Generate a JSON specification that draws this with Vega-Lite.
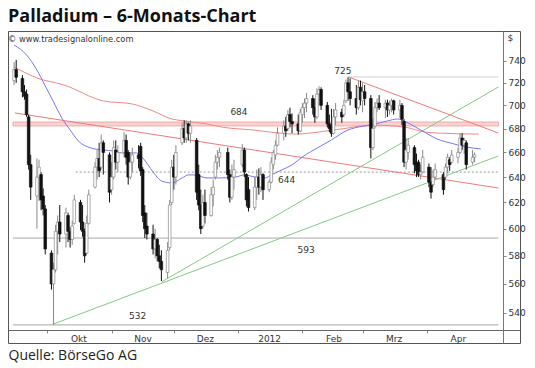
{
  "$schema": "https://vega.github.io/schema/vega-lite/v6.json",
  "width": 512,
  "height": 312,
  "autosize": {"type": "none"},
  "padding": {"left": 8, "top": 31, "right": 15, "bottom": 25},
  "background": "white",
  "config": {"view": {"stroke": "#555", "strokeWidth": 1}, "font": "DejaVu Sans"},
  "title": {
    "text": "Palladium – 6-Monats-Chart",
    "subtitle": "© www.tradesignalonline.com",
    "anchor": "start",
    "font": "Open Sans",
    "fontSize": 18,
    "fontWeight": "bold",
    "color": "#111",
    "subtitleFont": "DejaVu Sans",
    "subtitleFontSize": 8.3,
    "subtitleColor": "#333",
    "subtitlePadding": 9,
    "offset": -12
  },
  "datasets": {
    "ohlc": [
      {"d":"2011-09-15","o":722,"h":739,"l":718,"c":732},
      {"d":"2011-09-16","o":732,"h":741,"l":720,"c":725},
      {"d":"2011-09-19","o":724,"h":727,"l":707,"c":712},
      {"d":"2011-09-20","o":712,"h":718,"l":705,"c":708},
      {"d":"2011-09-21","o":710,"h":714,"l":690,"c":692},
      {"d":"2011-09-22","o":690,"h":692,"l":646,"c":650},
      {"d":"2011-09-23","o":650,"h":658,"l":622,"c":632},
      {"d":"2011-09-26","o":625,"h":655,"l":600,"c":640},
      {"d":"2011-09-27","o":640,"h":654,"l":621,"c":648},
      {"d":"2011-09-28","o":642,"h":644,"l":614,"c":622},
      {"d":"2011-09-29","o":625,"h":631,"l":610,"c":615},
      {"d":"2011-09-30","o":615,"h":618,"l":581,"c":585},
      {"d":"2011-10-03","o":582,"h":584,"l":556,"c":560},
      {"d":"2011-10-04","o":560,"h":575,"l":532,"c":570},
      {"d":"2011-10-05","o":570,"h":603,"l":568,"c":598},
      {"d":"2011-10-06","o":598,"h":610,"l":581,"c":605},
      {"d":"2011-10-07","o":605,"h":618,"l":590,"c":596},
      {"d":"2011-10-10","o":596,"h":616,"l":586,"c":612},
      {"d":"2011-10-11","o":610,"h":612,"l":590,"c":598},
      {"d":"2011-10-12","o":598,"h":601,"l":586,"c":592},
      {"d":"2011-10-13","o":592,"h":606,"l":588,"c":602},
      {"d":"2011-10-14","o":604,"h":626,"l":603,"c":622},
      {"d":"2011-10-17","o":620,"h":622,"l":599,"c":605},
      {"d":"2011-10-18","o":605,"h":618,"l":594,"c":598},
      {"d":"2011-10-19","o":598,"h":600,"l":575,"c":580},
      {"d":"2011-10-20","o":582,"h":610,"l":581,"c":604},
      {"d":"2011-10-21","o":604,"h":630,"l":603,"c":626},
      {"d":"2011-10-24","o":632,"h":652,"l":631,"c":648},
      {"d":"2011-10-25","o":648,"h":662,"l":638,"c":655},
      {"d":"2011-10-26","o":655,"h":668,"l":640,"c":645},
      {"d":"2011-10-27","o":648,"h":675,"l":646,"c":668},
      {"d":"2011-10-28","o":668,"h":670,"l":642,"c":660},
      {"d":"2011-10-31","o":658,"h":660,"l":620,"c":628},
      {"d":"2011-11-01","o":630,"h":652,"l":626,"c":640},
      {"d":"2011-11-02","o":640,"h":670,"l":638,"c":664},
      {"d":"2011-11-03","o":662,"h":670,"l":646,"c":652},
      {"d":"2011-11-04","o":652,"h":666,"l":644,"c":660},
      {"d":"2011-11-07","o":660,"h":677,"l":656,"c":670},
      {"d":"2011-11-08","o":670,"h":675,"l":650,"c":656},
      {"d":"2011-11-09","o":660,"h":662,"l":634,"c":640},
      {"d":"2011-11-10","o":640,"h":660,"l":638,"c":652},
      {"d":"2011-11-11","o":652,"h":664,"l":644,"c":658},
      {"d":"2011-11-14","o":658,"h":666,"l":647,"c":655},
      {"d":"2011-11-15","o":665,"h":668,"l":641,"c":645},
      {"d":"2011-11-16","o":646,"h":648,"l":605,"c":610},
      {"d":"2011-11-17","o":612,"h":618,"l":593,"c":600},
      {"d":"2011-11-18","o":602,"h":612,"l":592,"c":596},
      {"d":"2011-11-21","o":596,"h":603,"l":581,"c":585},
      {"d":"2011-11-22","o":585,"h":600,"l":578,"c":592},
      {"d":"2011-11-23","o":592,"h":593,"l":576,"c":580},
      {"d":"2011-11-24","o":580,"h":588,"l":571,"c":576},
      {"d":"2011-11-25","o":576,"h":584,"l":562,"c":570},
      {"d":"2011-11-28","o":568,"h":590,"l":564,"c":584},
      {"d":"2011-11-29","o":586,"h":622,"l":584,"c":618},
      {"d":"2011-11-30","o":620,"h":654,"l":618,"c":648},
      {"d":"2011-12-01","o":648,"h":658,"l":630,"c":640},
      {"d":"2011-12-02","o":640,"h":666,"l":634,"c":660},
      {"d":"2011-12-05","o":668,"h":685,"l":666,"c":680},
      {"d":"2011-12-06","o":680,"h":687,"l":668,"c":672},
      {"d":"2011-12-07","o":672,"h":687,"l":668,"c":684},
      {"d":"2011-12-08","o":684,"h":685,"l":670,"c":676},
      {"d":"2011-12-09","o":676,"h":687,"l":668,"c":682},
      {"d":"2011-12-12","o":670,"h":672,"l":622,"c":628},
      {"d":"2011-12-13","o":642,"h":650,"l":614,"c":618},
      {"d":"2011-12-14","o":618,"h":630,"l":596,"c":600},
      {"d":"2011-12-15","o":602,"h":626,"l":600,"c":620},
      {"d":"2011-12-16","o":620,"h":630,"l":604,"c":610},
      {"d":"2011-12-19","o":610,"h":632,"l":609,"c":626},
      {"d":"2011-12-20","o":626,"h":638,"l":617,"c":632},
      {"d":"2011-12-21","o":640,"h":658,"l":638,"c":652},
      {"d":"2011-12-22","o":652,"h":662,"l":646,"c":656},
      {"d":"2011-12-23","o":656,"h":664,"l":648,"c":660},
      {"d":"2011-12-27","o":660,"h":664,"l":638,"c":642},
      {"d":"2011-12-28","o":642,"h":646,"l":620,"c":624},
      {"d":"2011-12-29","o":624,"h":650,"l":622,"c":640},
      {"d":"2011-12-30","o":640,"h":654,"l":630,"c":646},
      {"d":"2012-01-03","o":650,"h":667,"l":648,"c":662},
      {"d":"2012-01-04","o":662,"h":664,"l":640,"c":644},
      {"d":"2012-01-05","o":642,"h":643,"l":617,"c":622},
      {"d":"2012-01-06","o":630,"h":640,"l":613,"c":616},
      {"d":"2012-01-09","o":616,"h":640,"l":614,"c":632},
      {"d":"2012-01-10","o":632,"h":646,"l":622,"c":640},
      {"d":"2012-01-11","o":640,"h":647,"l":626,"c":632},
      {"d":"2012-01-12","o":632,"h":648,"l":628,"c":642},
      {"d":"2012-01-13","o":642,"h":643,"l":622,"c":630},
      {"d":"2012-01-16","o":630,"h":638,"l":628,"c":636},
      {"d":"2012-01-17","o":636,"h":656,"l":635,"c":652},
      {"d":"2012-01-18","o":650,"h":662,"l":646,"c":660},
      {"d":"2012-01-19","o":658,"h":670,"l":654,"c":666},
      {"d":"2012-01-20","o":666,"h":681,"l":665,"c":676},
      {"d":"2012-01-23","o":676,"h":687,"l":670,"c":682},
      {"d":"2012-01-24","o":682,"h":690,"l":673,"c":678},
      {"d":"2012-01-25","o":680,"h":696,"l":678,"c":692},
      {"d":"2012-01-26","o":692,"h":698,"l":681,"c":686},
      {"d":"2012-01-27","o":686,"h":693,"l":676,"c":684},
      {"d":"2012-01-30","o":684,"h":692,"l":675,"c":678},
      {"d":"2012-01-31","o":678,"h":697,"l":677,"c":694},
      {"d":"2012-02-01","o":692,"h":702,"l":685,"c":698},
      {"d":"2012-02-02","o":698,"h":706,"l":689,"c":702},
      {"d":"2012-02-03","o":702,"h":711,"l":694,"c":706},
      {"d":"2012-02-06","o":706,"h":709,"l":692,"c":698},
      {"d":"2012-02-07","o":698,"h":706,"l":685,"c":690},
      {"d":"2012-02-08","o":690,"h":715,"l":688,"c":710},
      {"d":"2012-02-09","o":710,"h":717,"l":700,"c":714},
      {"d":"2012-02-10","o":714,"h":716,"l":696,"c":700},
      {"d":"2012-02-13","o":700,"h":703,"l":681,"c":684},
      {"d":"2012-02-14","o":684,"h":692,"l":677,"c":680},
      {"d":"2012-02-15","o":682,"h":697,"l":673,"c":676},
      {"d":"2012-02-16","o":676,"h":697,"l":675,"c":690},
      {"d":"2012-02-17","o":690,"h":702,"l":683,"c":696},
      {"d":"2012-02-20","o":694,"h":697,"l":685,"c":690},
      {"d":"2012-02-21","o":692,"h":705,"l":690,"c":700},
      {"d":"2012-02-22","o":704,"h":723,"l":702,"c":720},
      {"d":"2012-02-23","o":720,"h":725,"l":704,"c":712},
      {"d":"2012-02-24","o":712,"h":724,"l":700,"c":706},
      {"d":"2012-02-27","o":706,"h":718,"l":692,"c":698},
      {"d":"2012-02-28","o":698,"h":722,"l":696,"c":716},
      {"d":"2012-02-29","o":716,"h":722,"l":700,"c":705},
      {"d":"2012-03-01","o":704,"h":720,"l":694,"c":712},
      {"d":"2012-03-02","o":712,"h":718,"l":700,"c":706},
      {"d":"2012-03-05","o":706,"h":709,"l":655,"c":664},
      {"d":"2012-03-06","o":664,"h":689,"l":662,"c":680},
      {"d":"2012-03-07","o":682,"h":703,"l":680,"c":698},
      {"d":"2012-03-08","o":698,"h":706,"l":694,"c":702},
      {"d":"2012-03-09","o":702,"h":709,"l":696,"c":698},
      {"d":"2012-03-12","o":698,"h":705,"l":689,"c":702},
      {"d":"2012-03-13","o":702,"h":705,"l":690,"c":696},
      {"d":"2012-03-14","o":696,"h":704,"l":692,"c":700},
      {"d":"2012-03-15","o":700,"h":706,"l":694,"c":704},
      {"d":"2012-03-16","o":704,"h":705,"l":692,"c":696},
      {"d":"2012-03-19","o":696,"h":705,"l":689,"c":700},
      {"d":"2012-03-20","o":700,"h":702,"l":683,"c":688},
      {"d":"2012-03-21","o":686,"h":688,"l":648,"c":652},
      {"d":"2012-03-22","o":652,"h":672,"l":646,"c":662},
      {"d":"2012-03-23","o":660,"h":672,"l":654,"c":666},
      {"d":"2012-03-26","o":664,"h":666,"l":643,"c":650},
      {"d":"2012-03-27","o":652,"h":659,"l":640,"c":645},
      {"d":"2012-03-28","o":652,"h":654,"l":640,"c":642},
      {"d":"2012-03-29","o":642,"h":650,"l":638,"c":644},
      {"d":"2012-03-30","o":644,"h":662,"l":643,"c":656},
      {"d":"2012-04-02","o":648,"h":651,"l":632,"c":636},
      {"d":"2012-04-03","o":636,"h":648,"l":623,"c":628},
      {"d":"2012-04-04","o":634,"h":646,"l":632,"c":640},
      {"d":"2012-04-05","o":640,"h":651,"l":638,"c":646},
      {"d":"2012-04-09","o":642,"h":644,"l":626,"c":630},
      {"d":"2012-04-10","o":640,"h":651,"l":638,"c":648},
      {"d":"2012-04-11","o":648,"h":659,"l":643,"c":656},
      {"d":"2012-04-12","o":654,"h":656,"l":645,"c":650},
      {"d":"2012-04-13","o":652,"h":662,"l":651,"c":658},
      {"d":"2012-04-16","o":656,"h":664,"l":651,"c":660},
      {"d":"2012-04-17","o":660,"h":676,"l":659,"c":672},
      {"d":"2012-04-18","o":672,"h":676,"l":662,"c":666},
      {"d":"2012-04-19","o":666,"h":672,"l":659,"c":670},
      {"d":"2012-04-20","o":668,"h":670,"l":646,"c":650},
      {"d":"2012-04-23","o":652,"h":662,"l":650,"c":656},
      {"d":"2012-04-24","o":656,"h":660,"l":652,"c":658}
    ],
    "blue": [
      {"d":"2011-09-15","p":754.9},{"d":"2011-09-21","p":745.5},{"d":"2011-09-26","p":731.6},
      {"d":"2011-09-30","p":717.2},{"d":"2011-10-04","p":703.0},{"d":"2011-10-08","p":689.1},
      {"d":"2011-10-12","p":678.8},{"d":"2011-10-16","p":669.5},{"d":"2011-10-22","p":663.7},
      {"d":"2011-10-28","p":662.0},{"d":"2011-11-02","p":661.2},{"d":"2011-11-06","p":659.6},
      {"d":"2011-11-13","p":659.6},{"d":"2011-11-16","p":655.5},{"d":"2011-11-21","p":644.1},
      {"d":"2011-11-25","p":636.9},{"d":"2011-11-30","p":635.3},{"d":"2011-12-05","p":639.3},
      {"d":"2011-12-08","p":641.7},{"d":"2011-12-11","p":641.7},{"d":"2011-12-17","p":639.3},
      {"d":"2011-12-23","p":639.3},{"d":"2011-12-31","p":640.1},{"d":"2012-01-04","p":641.7},
      {"d":"2012-01-09","p":640.1},{"d":"2012-01-14","p":639.3},{"d":"2012-01-17","p":641.7},
      {"d":"2012-01-22","p":645.7},{"d":"2012-01-27","p":649.8},{"d":"2012-02-01","p":656.3},
      {"d":"2012-02-09","p":664.5},{"d":"2012-02-15","p":670.4},{"d":"2012-02-23","p":678.8},
      {"d":"2012-02-26","p":680.5},{"d":"2012-03-05","p":683.0},{"d":"2012-03-13","p":686.5},
      {"d":"2012-03-18","p":688.2},{"d":"2012-03-22","p":685.6},{"d":"2012-03-29","p":678.8},
      {"d":"2012-04-06","p":671.2},{"d":"2012-04-14","p":667.1},{"d":"2012-04-20","p":664.5},
      {"d":"2012-04-27","p":662.9}
    ],
    "red": [
      {"d":"2011-09-15","p":734.4},{"d":"2011-09-26","p":724.4},{"d":"2011-10-09","p":718.1},
      {"d":"2011-10-28","p":703.9},{"d":"2011-11-11","p":701.2},{"d":"2011-11-21","p":695.1},
      {"d":"2011-11-30","p":688.2},{"d":"2011-12-06","p":686.5},{"d":"2011-12-17","p":683.9},
      {"d":"2011-12-24","p":681.3},{"d":"2012-01-08","p":678.8},{"d":"2012-01-21","p":676.2},
      {"d":"2012-01-29","p":675.3},{"d":"2012-02-09","p":677.1},{"d":"2012-02-23","p":680.5},
      {"d":"2012-03-05","p":683.0},{"d":"2012-03-21","p":681.3},{"d":"2012-03-31","p":677.1},
      {"d":"2012-04-06","p":676.2},{"d":"2012-04-26","p":675.3}
    ],
    "band": [
      {"a":"2011-09-14T11:00:00Z","b":"2012-05-05T12:00:00Z","lo":682.2,"hi":685.6}
    ],
    "hlsolid": [
      {"a":"2011-09-14T11:00:00Z","b":"2012-05-05T12:00:00Z","p":593},
      {"a":"2011-09-14T11:00:00Z","b":"2012-05-05T12:00:00Z","p":532}
    ],
    "hltop": [
      {"a":"2012-02-23T05:00:00Z","b":"2012-05-05T12:00:00Z","p":725.3}
    ],
    "hldot": [
      {"a":"2011-10-14T17:00:00Z","b":"2012-05-05T12:00:00Z","p":644}
    ],
    "tlred": [
      {"a":"2011-09-15T10:00:00Z","b":"2012-05-05T12:00:00Z","p1":693.4,"p2":631.3},
      {"a":"2012-02-23T05:00:00Z","b":"2012-05-05T12:00:00Z","p1":725.3,"p2":676.2}
    ],
    "tlgreen": [
      {"a":"2011-10-04T00:00:00Z","b":"2012-05-05T12:00:00Z","p1":532.6,"p2":657.1},
      {"a":"2011-11-25T00:00:00Z","b":"2012-05-05T12:00:00Z","p1":561.3,"p2":716.3}
    ],
    "labels": [
      {"d":"2012-02-20T12:00:00Z","p":730.8,"t":"725"},
      {"d":"2012-01-01T10:00:00Z","p":694.2,"t":"684"},
      {"d":"2012-01-24T10:00:00Z","p":637.7,"t":"644"},
      {"d":"2012-02-02T19:00:00Z","p":584.2,"t":"593"},
      {"d":"2011-11-13T12:00:00Z","p":538,"t":"532"}
    ]
  },
  "layer": [
    {
      "data": {"name": "band"},
      "mark": {"type": "rect", "fill": "#fbd3d3", "stroke": "#f09a9a", "strokeWidth": 0.8},
      "encoding": {
        "x": {"field": "a", "type": "temporal",
              "scale": {"type": "utc", "nice": false, "domain": [{"year":2011,"month":9,"date":14,"hours":11,"utc":true},{"year":2012,"month":5,"date":13,"hours":12,"utc":true}]},
              "axis": {
                "orient": "bottom", "offset": -13,
                "values": [{"year":2011,"month":10,"date":1,"utc":true},{"year":2011,"month":11,"date":1,"utc":true},{"year":2011,"month":12,"date":1,"utc":true},{"year":2012,"month":1,"date":1,"utc":true},{"year":2012,"month":2,"date":1,"utc":true},{"year":2012,"month":3,"date":1,"utc":true},{"year":2012,"month":4,"date":1,"utc":true}],
                "labelExpr": "['2012','Feb','Mrz','Apr','Mai','Jun','Jul','Aug','Sep','Okt','Nov','Dez'][utcmonth(datum.value)]",
                "labelOffset": 31, "labelFlush": false, "labelOverlap": false,
                "tickSize": 3, "tickColor": "#888", "domainColor": "#666", "grid": false,
                "labelFont": "DejaVu Sans", "labelFontSize": 9, "labelColor": "#333", "labelPadding": 1,
                "title": "Quelle: BörseGo AG", "titleAnchor": "start", "titleAlign": "left", "titleBaseline": "top",
                "titleX": 0, "titleY": 18, "titleFont": "Open Sans", "titleFontSize": 14, "titleFontWeight": "normal", "titleColor": "#222"
              }},
        "x2": {"field": "b"},
        "y": {"field": "lo", "type": "quantitative",
              "scale": {"type": "log", "nice": false, "domain": [520.1, 768.2]},
              "axis": {
                "orient": "right", "offset": -17,
                "values": [540, 560, 580, 600, 620, 640, 660, 680, 700, 720, 740],
                "format": "d", "tickSize": 3, "tickColor": "#888", "domainColor": "#777", "grid": false,
                "labelFont": "DejaVu Sans", "labelFontSize": 9, "labelColor": "#333", "labelPadding": 2,
                "labelFlush": false, "labelOverlap": false,
                "title": "$", "titleAngle": 0, "titleX": 4, "titleY": 6, "titleAlign": "left", "titleBaseline": "middle",
                "titleFont": "DejaVu Sans", "titleFontSize": 9, "titleFontWeight": "normal", "titleColor": "#333"
              }},
        "y2": {"field": "hi"}
      }
    },
    {
      "data": {"name": "hlsolid"},
      "mark": {"type": "rule", "strokeWidth": 1, "color": "#a8a8a8"},
      "encoding": {
        "x": {"field": "a", "type": "temporal"},
        "x2": {"field": "b"},
        "y": {"field": "p", "type": "quantitative"}
      }
    },
    {
      "data": {"name": "hltop"},
      "mark": {"type": "rule", "strokeWidth": 1, "color": "#cfcfcf"},
      "encoding": {
        "x": {"field": "a", "type": "temporal"},
        "x2": {"field": "b"},
        "y": {"field": "p", "type": "quantitative"}
      }
    },
    {
      "data": {"name": "hldot"},
      "mark": {"type": "rule", "strokeWidth": 1, "color": "#999999", "strokeDash": [2, 2]},
      "encoding": {
        "x": {"field": "a", "type": "temporal"},
        "x2": {"field": "b"},
        "y": {"field": "p", "type": "quantitative"}
      }
    },
    {
      "data": {"name": "tlred"},
      "mark": {"type": "rule", "strokeWidth": 1, "color": "#f07a7a"},
      "encoding": {
        "x": {"field": "a", "type": "temporal"},
        "x2": {"field": "b"},
        "y": {"field": "p1", "type": "quantitative"},
        "y2": {"field": "p2"}
      }
    },
    {
      "data": {"name": "tlgreen"},
      "mark": {"type": "rule", "strokeWidth": 1, "color": "#86c886"},
      "encoding": {
        "x": {"field": "a", "type": "temporal"},
        "x2": {"field": "b"},
        "y": {"field": "p1", "type": "quantitative"},
        "y2": {"field": "p2"}
      }
    },
    {
      "data": {"name": "red"},
      "mark": {"type": "line", "color": "#f08888", "strokeWidth": 1, "interpolate": "monotone"},
      "encoding": {
        "x": {"field": "d", "type": "temporal"},
        "y": {"field": "p", "type": "quantitative"}
      }
    },
    {
      "data": {"name": "blue"},
      "mark": {"type": "line", "color": "#7878f0", "strokeWidth": 1, "interpolate": "monotone"},
      "encoding": {
        "x": {"field": "d", "type": "temporal"},
        "y": {"field": "p", "type": "quantitative"}
      }
    },
    {
      "data": {"name": "ohlc"},
      "mark": {"type": "rule", "strokeWidth": 1},
      "encoding": {
        "x": {"field": "d", "type": "temporal"},
        "y": {"field": "l", "type": "quantitative"},
        "y2": {"field": "h"},
        "color": {"condition": {"test": "datum.c < datum.o", "value": "#111"}, "value": "#8a8a8a"}
      }
    },
    {
      "data": {"name": "ohlc"},
      "mark": {"type": "bar", "width": 2.6, "strokeWidth": 0.7},
      "encoding": {
        "x": {"field": "d", "type": "temporal"},
        "y": {"field": "o", "type": "quantitative"},
        "y2": {"field": "c"},
        "fill": {"condition": {"test": "datum.c < datum.o", "value": "#111"}, "value": "#ffffff"},
        "stroke": {"condition": {"test": "datum.c < datum.o", "value": "#111"}, "value": "#8a8a8a"}
      }
    },
    {
      "data": {"name": "labels"},
      "mark": {"type": "text", "font": "DejaVu Sans", "fontSize": 9, "color": "#333", "align": "center", "baseline": "middle"},
      "encoding": {
        "x": {"field": "d", "type": "temporal"},
        "y": {"field": "p", "type": "quantitative"},
        "text": {"field": "t"}
      }
    }
  ]
}
